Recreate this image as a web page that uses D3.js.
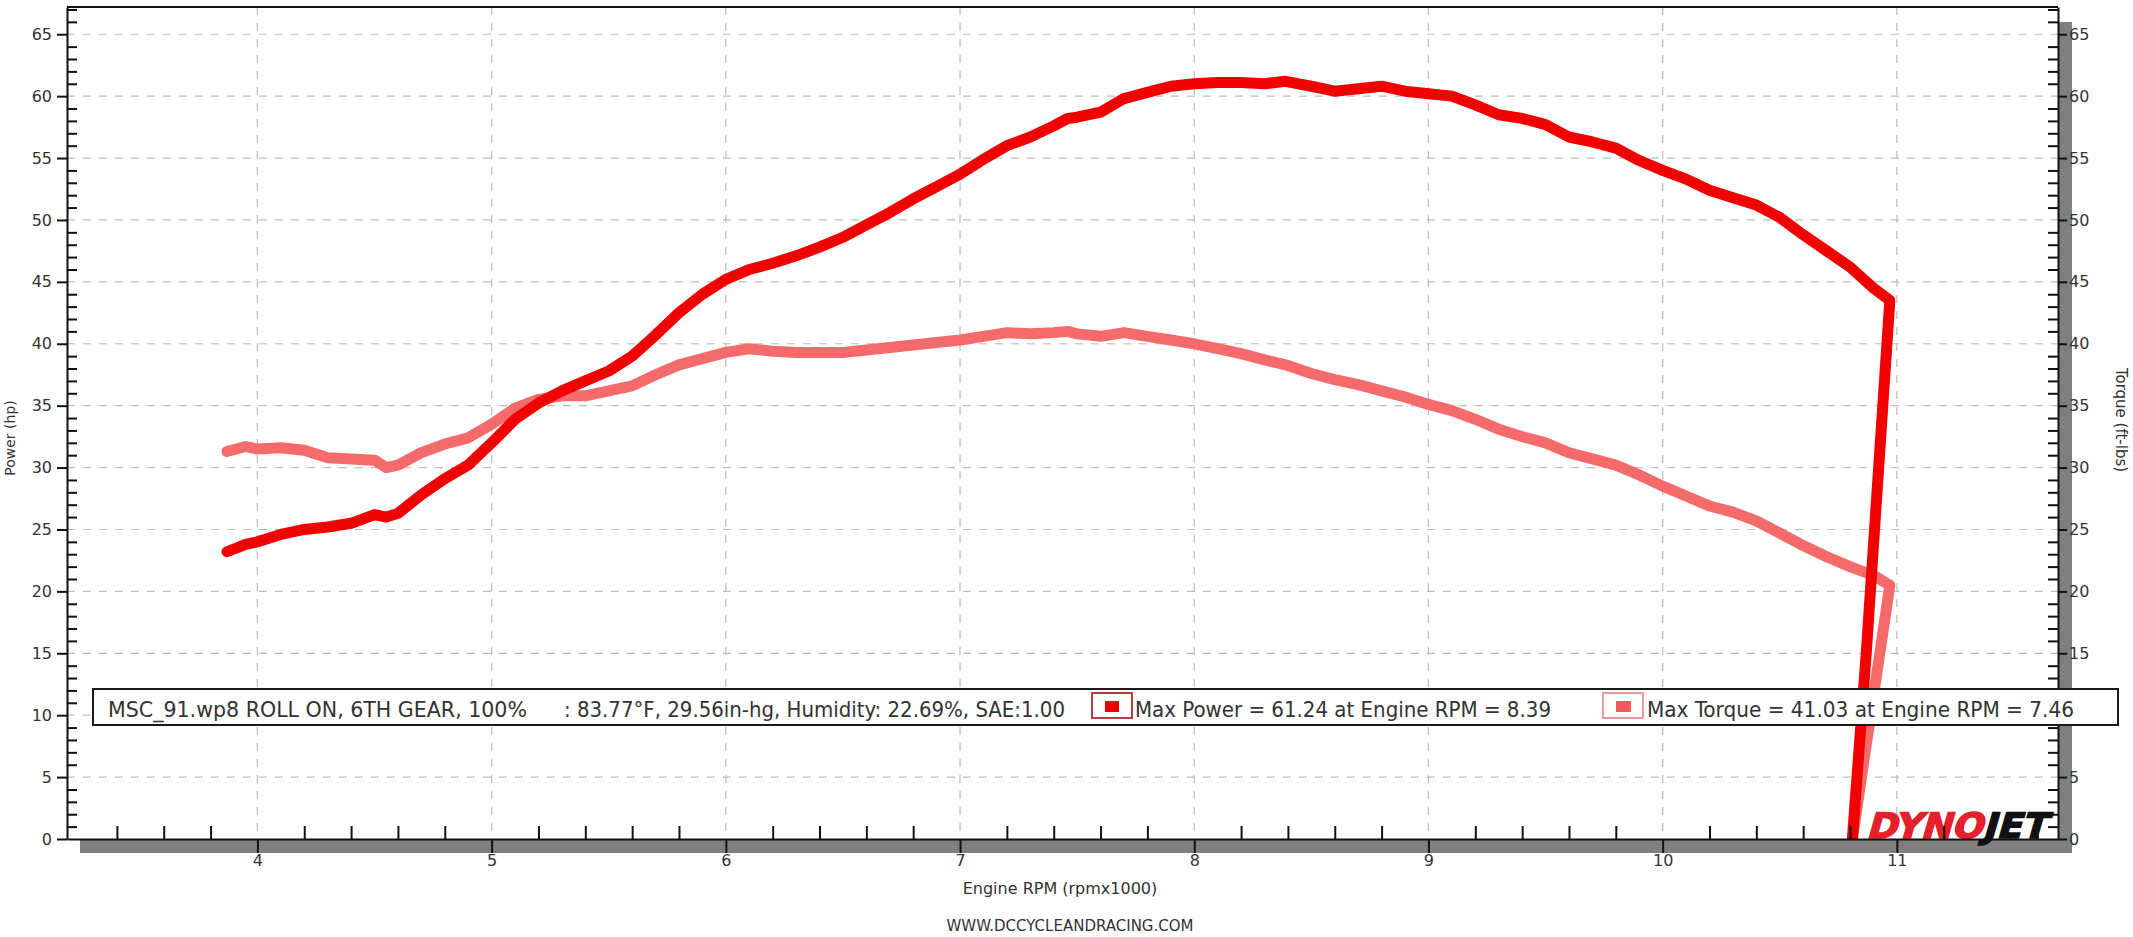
<!DOCTYPE html>
<html><head><meta charset="utf-8">
<script src="https://cdn.jsdelivr.net/npm/d3@7"></script>
<style>
html,body{margin:0;padding:0;background:#fff;}
svg{display:block;}
</style></head>
<body>
<svg id="chart" width="2133" height="937"></svg>
<script>
// ---------- DATA ----------
const rpm = [3.87,3.95,4.0,4.1,4.2,4.3,4.4,4.5,4.55,4.6,4.7,4.8,4.9,5.0,5.1,5.2,5.3,5.4,5.5,5.6,5.7,5.8,5.9,
  6.0,6.1,6.2,6.3,6.4,6.5,6.6,6.7,6.8,6.9,7.0,7.1,7.2,7.3,7.4,7.46,7.5,7.6,7.7,7.8,7.9,
  8.0,8.1,8.2,8.3,8.39,8.5,8.6,8.7,8.8,8.9,9.0,9.1,9.2,9.3,9.4,9.5,9.6,9.7,9.8,9.9,
  10.0,10.1,10.2,10.3,10.4,10.5,10.6,10.7,10.8,10.9,10.97];
const powerHp = [23.2,23.8,24.0,24.6,25.0,25.2,25.5,26.2,26.0,26.3,27.8,29.1,30.2,32.0,33.9,35.2,36.2,37.0,37.8,39.0,40.7,42.5,44.0,
  45.2,46.0,46.5,47.1,47.8,48.6,49.6,50.6,51.7,52.7,53.7,54.9,56.0,56.7,57.6,58.2,58.3,58.7,59.8,60.3,60.8,
  61.0,61.1,61.1,61.0,61.2,60.8,60.4,60.6,60.8,60.4,60.2,60.0,59.3,58.5,58.2,57.7,56.7,56.3,55.8,54.8,
  54.0,53.3,52.4,51.8,51.2,50.2,48.8,47.5,46.2,44.5,43.5];
const torqueFtLbs = [31.3,31.7,31.5,31.6,31.4,30.8,30.7,30.6,30.0,30.2,31.2,31.9,32.4,33.5,34.8,35.5,35.8,35.8,36.2,36.6,37.5,38.3,38.8,
  39.3,39.6,39.4,39.3,39.3,39.3,39.5,39.7,39.9,40.1,40.3,40.6,40.9,40.8,40.9,41.0,40.8,40.6,40.9,40.6,40.3,
  40.0,39.6,39.2,38.7,38.3,37.6,37.1,36.7,36.2,35.7,35.1,34.6,33.9,33.1,32.5,32.0,31.2,30.7,30.2,29.4,
  28.5,27.7,26.9,26.4,25.7,24.7,23.7,22.8,22.0,21.3,20.5];
// run-down tails (drop to zero at end of pull)
const powerDropRpm = [10.97,10.87,10.81];
const powerDropHp  = [43.5,15.2,0];
const torqueDropRpm = [10.97,10.81];
const torqueDropFtLbs = [20.5,0];

const xTicks = [4,5,6,7,8,9,10,11];
const xTickLabels = ["4","5","6","7","8","9","10","11"];
const yTicks = [0,5,10,15,20,25,30,35,40,45,50,55,60,65];
const yTickLabels = yTicks.map(String);

const legendInfoA = "MSC_91.wp8 ROLL ON, 6TH GEAR, 100%";
const legendInfoB = ": 83.77°F, 29.56in-hg, Humidity: 22.69%, SAE:1.00";
const legendPower = "Max Power = 61.24 at Engine RPM = 8.39";
const legendTorque = "Max Torque = 41.03 at Engine RPM = 7.46";

// ---------- LAYOUT ----------
const L = 67, R = 2058, T = 7, B = 839;
const svg = d3.select("#chart");
const x = d3.scaleLinear().domain([3.187, 11.688]).range([L, R]);
const y = d3.scaleLinear().domain([0, 67.2]).range([B, T]);
const yR = d3.scaleLinear().domain([0, 67.2]).range([B, T]);
const font = "'DejaVu Sans', Verdana, sans-serif";
const txt = "#333";

// shadows
svg.append("rect").attr("x", 80).attr("y", B).attr("width", 2072 - 80).attr("height", 14).attr("fill", "#7f7f7f");
svg.append("rect").attr("x", R).attr("y", 22).attr("width", 14).attr("height", B + 14 - 22).attr("fill", "#7f7f7f");

// gridlines
const grid = svg.append("g").attr("stroke", "#bdbdbd").attr("stroke-width", 1.2).attr("stroke-dasharray", "8,8");
grid.selectAll("line.h").data(yTicks.filter(d => d > 0)).join("line")
  .attr("x1", L).attr("x2", R).attr("y1", d => y(d)).attr("y2", d => y(d));
grid.selectAll("line.v").data(xTicks).join("line")
  .attr("y1", T).attr("y2", B).attr("x1", d => x(d)).attr("x2", d => x(d));

// DYNOJET logo
const logo = svg.append("text").attr("transform", "translate(1866,838) skewX(-16)")
  .attr("font-family", font).attr("font-size", 35).attr("font-weight", 900)
  .attr("stroke-width", 1.6).attr("textLength", 180).attr("lengthAdjust", "spacingAndGlyphs");
logo.append("tspan").attr("fill", "#e3202b").attr("stroke", "#e3202b").text("DYNO");
logo.append("tspan").attr("fill", "#111").attr("stroke", "#111").text("JET");

// curves
svg.append("clipPath").attr("id", "plotclip").append("rect")
  .attr("x", L).attr("y", T).attr("width", R - L).attr("height", B - T);
const line = d3.line().x(d => x(d[0])).y(d => y(d[1])).curve(d3.curveLinear);
const torquePts = rpm.map((r, i) => [r, torqueFtLbs[i]]).concat(torqueDropRpm.slice(1).map((r, i) => [r, torqueDropFtLbs[i + 1]]));
const powerPts = rpm.map((r, i) => [r, powerHp[i]]).concat(powerDropRpm.slice(1).map((r, i) => [r, powerDropHp[i + 1]]));
const curves = svg.append("g").attr("clip-path", "url(#plotclip)");
curves.append("path").datum(torquePts).attr("d", line).attr("fill", "none")
  .attr("stroke", "#f56b6b").attr("stroke-width", 11).attr("stroke-linejoin", "round").attr("stroke-linecap", "round");
curves.append("path").datum(powerPts).attr("d", line).attr("fill", "none")
  .attr("stroke", "#f20000").attr("stroke-width", 11).attr("stroke-linejoin", "round").attr("stroke-linecap", "round");

// frame top line
svg.append("line").attr("x1", L).attr("x2", R).attr("y1", T).attr("y2", T).attr("stroke", "#111").attr("stroke-width", 2);

function styleAxis(g) {
  g.selectAll("path.domain").attr("stroke", "#111").attr("stroke-width", 2);
  g.selectAll(".tick line").attr("stroke", "#111").attr("stroke-width", 2);
  g.selectAll(".tick text").attr("fill", txt).attr("font-family", font).attr("font-size", 16);
}
const yMinor = d3.range(1, 68).filter(d => d % 5 !== 0);
const xMinor = d3.range(16, 59).map(d => d / 5).filter(d => Math.abs(d - Math.round(d)) > 1e-6 && d > 3.2);

// left axis
svg.append("g").attr("transform", `translate(${L},0)`)
  .call(d3.axisRight(y).tickValues(yMinor).tickSize(10).tickFormat("").tickSizeOuter(0))
  .call(g => { g.select("path.domain").remove(); styleAxis(g); });
svg.append("g").attr("transform", `translate(${L},0)`)
  .call(d3.axisLeft(y).tickValues(yTicks).tickFormat((d, i) => yTickLabels[i]).tickSize(10).tickPadding(5).tickSizeOuter(0))
  .call(styleAxis);
// right axis
svg.append("g").attr("transform", `translate(${R},0)`)
  .call(d3.axisLeft(yR).tickValues(yMinor).tickSize(10).tickFormat("").tickSizeOuter(0))
  .call(g => { g.select("path.domain").remove(); styleAxis(g); });
svg.append("g").attr("transform", `translate(${R},0)`)
  .call(d3.axisRight(yR).tickValues(yTicks).tickFormat((d, i) => yTickLabels[i]).tickSize(9).tickPadding(2).tickSizeOuter(0))
  .call(styleAxis);
// bottom axis
svg.append("g").attr("transform", `translate(0,${B})`)
  .call(d3.axisTop(x).tickValues(xMinor).tickSize(13).tickFormat("").tickSizeOuter(0))
  .call(g => { g.select("path.domain").remove(); styleAxis(g); });
svg.append("g").attr("transform", `translate(0,${B})`)
  .call(d3.axisBottom(x).tickValues(xTicks).tickFormat((d, i) => xTickLabels[i]).tickSize(14).tickPadding(2).tickSizeOuter(0))
  .call(styleAxis);

// axis titles
svg.append("text").attr("transform", "translate(15,438) rotate(-90)").attr("text-anchor", "middle")
  .attr("font-family", font).attr("font-size", 14).attr("fill", txt).text("Power (hp)");
svg.append("text").attr("transform", "translate(2116,420) rotate(90)").attr("text-anchor", "middle")
  .attr("font-family", font).attr("font-size", 15).attr("fill", txt).text("Torque (ft-lbs)");
svg.append("text").attr("x", 1060).attr("y", 894).attr("text-anchor", "middle")
  .attr("font-family", font).attr("font-size", 16).attr("fill", txt).text("Engine RPM (rpmx1000)");
svg.append("text").attr("x", 1070).attr("y", 931).attr("text-anchor", "middle")
  .attr("font-family", font).attr("font-size", 15).attr("fill", txt).text("WWW.DCCYCLEANDRACING.COM");

// legend box
const lg = svg.append("g");
lg.append("rect").attr("x", 93).attr("y", 689).attr("width", 2118 - 93).attr("height", 36)
  .attr("fill", "#fff").attr("stroke", "#1a1a1a").attr("stroke-width", 2);
function legText(s, x0, x1) {
  lg.append("text").attr("x", x0).attr("y", 717).attr("font-family", "'DejaVu Sans Condensed', 'DejaVu Sans', sans-serif")
    .attr("font-size", 21).attr("fill", txt).attr("textLength", x1 - x0).attr("lengthAdjust", "spacingAndGlyphs").text(s);
}
legText(legendInfoA, 108, 527);
legText(legendInfoB, 564, 1065);
legText(legendPower, 1135, 1551);
legText(legendTorque, 1647, 2074);
lg.append("rect").attr("x", 1092).attr("y", 693).attr("width", 40).attr("height", 25).attr("fill", "#fff").attr("stroke", "#c0393b").attr("stroke-width", 2);
lg.append("rect").attr("x", 1105).attr("y", 701).attr("width", 14).attr("height", 11).attr("fill", "#f20000");
lg.append("rect").attr("x", 1603).attr("y", 693).attr("width", 40).attr("height", 25).attr("fill", "#fff").attr("stroke", "#e89a9a").attr("stroke-width", 2);
lg.append("rect").attr("x", 1616).attr("y", 701).attr("width", 15).attr("height", 11).attr("fill", "#f05a5a");
</script>
</body></html>
